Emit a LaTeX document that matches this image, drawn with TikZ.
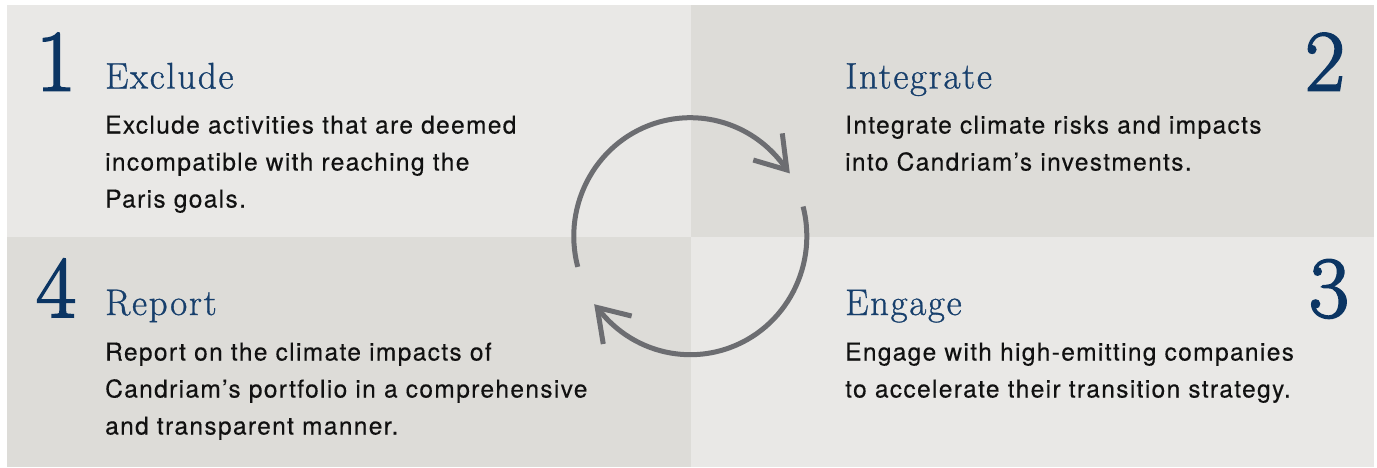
\documentclass[tikz,border=0pt]{standalone}
\usepackage{fontspec}
\setmainfont{Latin Modern Roman}
\newfontfamily\bodyfont[LetterSpace=5.5,FakeBold=0.3]{TeX Gyre Heros}
\newfontfamily\numfont[FakeBold=2.2]{Latin Modern Roman}
\newfontfamily\headfont[FakeBold=0.9,LetterSpace=4.5]{Latin Modern Roman}
\usetikzlibrary{calc}
\definecolor{qlight}{HTML}{E9E8E6}
\definecolor{qdark}{HTML}{DDDCD8}
\definecolor{navy}{HTML}{0B3563}
\definecolor{headc}{HTML}{173F6C}
\definecolor{bodyc}{HTML}{111111}
\definecolor{arrowc}{HTML}{6C6D71}
\begin{document}
\begin{tikzpicture}[x=1pt,y=-1pt,
  num/.style={anchor=base, inner sep=0pt, text=navy, font=\numfont\fontsize{87}{87}\selectfont},
  head/.style={anchor=base west, inner sep=0pt, text=headc, font=\headfont\fontsize{37}{37}\selectfont},
  body/.style={anchor=base west, inner sep=0pt, text=bodyc, font=\bodyfont\fontsize{24.5}{37}\selectfont},
  cyc/.style={draw=arrowc, line width=5pt},
  tip/.style={draw=arrowc, line width=5pt, line join=miter},
]
\useasboundingbox (0,0) rectangle (1377,467);
\fill[white] (0,0) rectangle (1377,467);
\fill[qlight] (7,5) rectangle (691,237);
\fill[qdark] (691,5) rectangle (1374,237);
\fill[qdark] (7,237) rectangle (691,467);
\fill[qlight] (691,237) rectangle (1374,467);

% quadrant 1
\node[num] (n1) at (56,90.5) {1};
\node[head] (h1) at (105,88.5) {Exclude};
\node[body] (b1) at (105,133.5) {\parbox[t]{480pt}{\raggedright Exclude activities that are deemed\\incompatible with reaching the\\Paris goals.}};
% quadrant 2
\node[num] (n2) at (1325,90.5) {2};
\node[head] (h2) at (845,88.5) {Integrate};
\node[body] (b2) at (845,133.5) {\parbox[t]{480pt}{\raggedright Integrate climate risks and impacts\\into Candriam’s investments.}};
% quadrant 3
\node[num] (n3) at (1329,317) {3};
\node[head] (h3) at (845,315) {Engage};
\node[body] (b3) at (845,360.5) {\parbox[t]{500pt}{\raggedright Engage with high-emitting companies\\to accelerate their transition strategy.}};
% quadrant 4
\node[num] (n4) at (56,317) {4};
\node[head] (h4) at (105,315) {Report};
\node[body] (b4) at (105,360.5) {\parbox[t]{500pt}{\raggedright Report on the climate impacts of\\Candriam’s portfolio in a comprehensive\\and transparent manner.}};

% cycle
\coordinate (C) at (690.3,236.2);
\coordinate (s1) at ($(C)+(165:116.5 and 118.5)$);
\coordinate (t1) at ($(C)+(326:116.5 and 118.5)$);
\coordinate (a1) at ($(t1)+(-4.6,-36.6)$);
\coordinate (b1h) at ($(t1)+(-33.6,-9.9)$);
\coordinate (s2) at ($(C)+(345.5:116.5 and 118.5)$);
\coordinate (t2) at ($(C)+(143:116.5 and 118.5)$);
\coordinate (a2) at ($(t2)+(6,36.5)$);
\coordinate (b2h) at ($(t2)+(34.4,8.5)$);
\draw[cyc] (s1) arc[start angle=165, end angle=326, x radius=116.5, y radius=118.5];
\draw[tip] (a1) -- (t1) -- (b1h);
\draw[cyc] (s2) arc[start angle=345.5, end angle=503, x radius=116.5, y radius=118.5];
\draw[tip] (a2) -- (t2) -- (b2h);
\end{tikzpicture}
\end{document}
